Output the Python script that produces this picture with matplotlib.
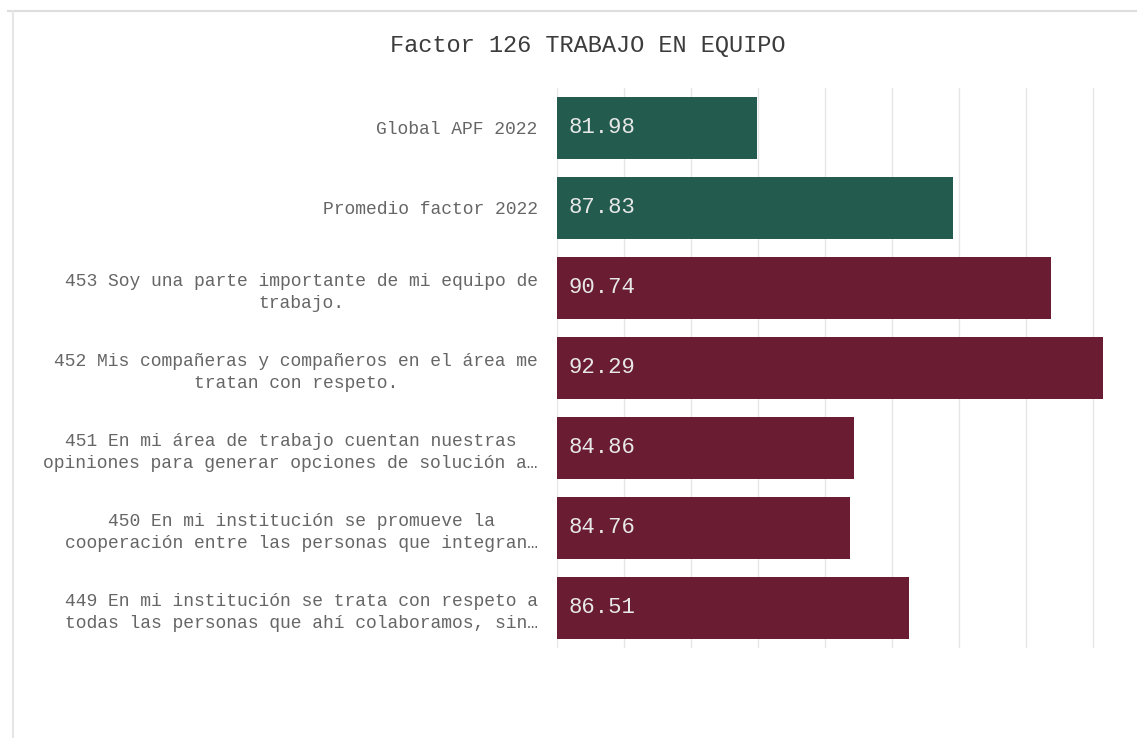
import numpy as np
import matplotlib.pyplot as plt
from matplotlib.lines import Line2D

# Datos del factor
etiquetas = [
    "Global APF 2022",
    "Promedio factor 2022",
    "453 Soy una parte importante de mi equipo de\ntrabajo.",
    "452 Mis compañeras y compañeros en el área me\ntratan con respeto.",
    "451 En mi área de trabajo cuentan nuestras\nopiniones para generar opciones de solución a…",
    "450 En mi institución se promueve la\ncooperación entre las personas que integran…",
    "449 En mi institución se trata con respeto a\ntodas las personas que ahí colaboramos, sin…",
]
valores = [81.98, 87.83, 90.74, 92.29, 84.86, 84.76, 86.51]
tipo = ["ref", "ref", "item", "item", "item", "item", "item"]

colores = {"ref": "#235B4E", "item": "#691C32"}

fig = plt.figure(figsize=(11.37, 7.38), dpi=100)
ax = fig.add_axes([0.4899, 0.122, 0.482, 0.7588])

y = np.arange(len(valores))
x0 = 76
barras = ax.barh(y, np.array(valores) - x0, left=x0, height=0.775,
                 color=[colores[t] for t in tipo], zorder=2)

for yi, v in zip(y, valores):
    ax.annotate(f"{v:.2f}", xy=(x0, yi), xytext=(8, 0), textcoords="offset points",
                ha="left", va="center", color="#e8e8e8", fontsize=16,
                family="Liberation Mono", zorder=3)

ax.set_xlim(x0, 92.36)
ax.set_ylim(len(valores) - 0.5, -0.5)
ax.set_xticks(np.arange(76, 93, 2))
ax.set_xticklabels([])
ax.set_yticks(y)
ax.set_yticklabels(etiquetas, family="Liberation Mono", fontsize=13,
                   color="#666666", linespacing=1.4, multialignment="center")
ax.tick_params(length=0, pad=14)
ax.grid(axis="x", color="#e6e6e6", linewidth=1, zorder=0)
for s in ax.spines.values():
    s.set_visible(False)

fig.text(0.517, 0.939, "Factor 126 TRABAJO EN EQUIPO", ha="center", va="center",
         family="Liberation Mono", fontsize=17, color="#3c3c3c")

# Borde de la tarjeta
fig.add_artist(Line2D([0.007, 1.0], [0.985, 0.985], color="#dddddd", linewidth=1.5))
fig.add_artist(Line2D([0.0115, 0.0115], [0.0, 0.985], color="#e6e6e6", linewidth=1.5))

fig.savefig("out.png", dpi=100, facecolor="white")
